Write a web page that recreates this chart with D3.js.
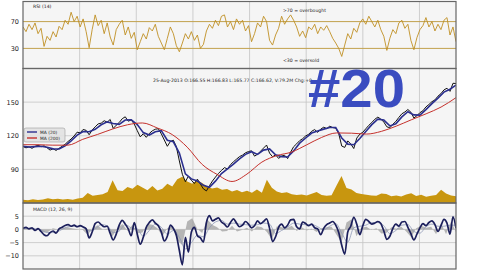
<!DOCTYPE html>
<html>
<head>
<meta charset="utf-8">
<script src="https://cdn.jsdelivr.net/npm/d3@7"></script>
<style>
  body { margin: 0; background: #fff; }
  svg { display: block; font-family: "DejaVu Sans", sans-serif; }
</style>
</head>
<body>
<svg id="chart" width="480" height="270"></svg>
<script>
const T0 = 2006, T1 = 2013.645;   // 1-Jan-2006 .. 25-Aug-2013
const yearTicks = [2007, 2008, 2009, 2010, 2011, 2012, 2013];

const rsiTicks = [30, 70];
const priceTicks = [90, 120, 150];
const macdTicks = [-10, -5, 0, 5];

const rsi = [62, 55, 66, 58, 68, 52, 60, 33, 48, 42, 55, 47, 63, 58, 72, 66, 84, 70, 78, 62,
  74, 55, 31, 58, 80, 64, 72, 52, 68, 47, 35, 58, 66, 72, 50, 62, 45, 54, 28, 40,
  52, 44, 61, 56, 66, 48, 38, 28, 45, 62, 52, 34, 25, 38, 52, 44, 55, 42, 50, 30,
  36, 56, 66, 60, 72, 64, 78, 80, 62, 70, 58, 74, 66, 72, 56, 64, 40, 52, 68, 62,
  78, 70, 42, 35, 50, 60, 78, 66, 74, 80, 72, 62, 48, 56, 46, 62, 58, 66, 52, 62,
  57, 64, 55, 45, 38, 30, 18, 35, 52, 44, 60, 54, 68, 74, 66, 78, 70, 62, 72, 58,
  48, 27, 45, 58, 52, 68, 72, 60, 66, 42, 28, 46, 58, 64, 76, 62, 70, 56, 66, 58,
  72, 76, 50, 62, 40];

const close = [110.4, 109.2, 110.1, 108.8, 110.5, 111.6, 110.2, 111.0, 109.3, 107.2,
  108.4, 106.9, 108.8, 110.6, 112.4, 114.9, 117.1, 119.8, 123.2, 122.6,
  125.6, 124.8, 120.9, 125.1, 127.9, 130.6, 131.2, 133.4, 132.1, 134.5,
  126.5, 129.4, 131.8, 135.2, 136.9, 133.0, 134.1, 130.4, 124.6, 119.0,
  121.8, 118.6, 122.0, 124.4, 125.8, 126.3, 121.7, 116.2, 110.6, 114.8,
  116.0, 110.2, 97.5, 85.6, 79.0, 83.9, 80.2, 77.4, 81.3, 76.8,
  72.6, 70.8, 75.4, 79.6, 83.1, 86.4, 89.0, 91.6, 90.3, 94.2,
  96.8, 99.1, 101.4, 102.7, 104.8, 105.9, 106.6, 101.8, 103.5, 106.2,
  109.0, 111.7, 104.5, 101.2, 103.0, 99.8, 101.9, 102.6, 99.6, 105.4,
  110.2, 112.8, 115.6, 117.4, 119.8, 121.3, 124.0, 125.5, 123.0, 125.9,
  127.6, 126.4, 128.5, 127.3, 126.8, 121.9, 110.8, 109.6, 115.4, 112.7,
  108.6, 117.9, 121.4, 123.1, 126.2, 129.3, 131.8, 134.7, 136.6, 134.9,
  132.2, 128.0, 127.1, 130.3, 132.8, 136.4, 139.6, 141.2, 143.4, 141.0,
  135.8, 137.9, 140.6, 142.3, 145.7, 147.9, 150.4, 152.0, 155.3, 157.6,
  160.9, 162.4, 159.6, 166.8, 166.6];

const ma20 = [110.6, 110.0, 110.3, 110.6, 109.8, 108.3, 108.2, 111.0, 115.4, 120.5,
  123.8, 123.6, 125.7, 129.8, 132.4, 131.0, 130.2, 134.0, 134.3, 130.0,
  122.8, 120.6, 123.5, 124.6, 116.0, 114.6, 104.5, 86.0, 81.5, 79.6,
  75.8, 74.0, 79.5, 86.3, 90.4, 94.6, 99.4, 103.4, 105.8, 103.4,
  107.2, 108.2, 103.0, 101.4, 101.0, 106.5, 113.4, 118.0, 122.4, 124.2,
  125.9, 127.4, 127.3, 118.0, 112.5, 112.0, 117.6, 123.8, 129.9, 134.8,
  134.0, 128.8, 130.6, 136.8, 141.4, 138.6, 138.4, 143.3, 148.6, 153.6,
  158.9, 161.5, 165.2];

const ma200 = [112.0, 112.0, 111.6, 111.6, 116.8, 121.2, 126.0, 129.8, 131.4, 126.9,
  121.0, 109.8, 94.4, 85.5, 79.2, 85.8, 96.5, 102.3, 105.5, 111.9,
  118.5, 122.5, 122.3, 121.5, 123.9, 128.6, 134.2, 139.6, 145.6, 154.0];

// dollar volume, $bn per day
const volume = [3.0, 2.5, 3.5, 2.8, 3.2, 4.5, 3.6, 4.0, 3.4, 3.9,
  3.1, 4.2, 5.0, 9.5, 6.8, 7.5, 8.2, 10.5, 21.5, 12.0,
  11.4, 15.2, 13.6, 17.4, 14.8, 12.2, 16.0, 11.8, 13.5, 18.3,
  15.7, 22.4, 24.8, 20.5, 18.2, 21.6, 19.0, 15.4, 13.8, 14.6,
  12.5, 13.2, 11.0, 12.3, 10.2, 11.5, 9.6, 12.8, 9.8, 22.0,
  14.5, 10.8, 9.5, 10.2, 8.4, 7.6, 8.0, 7.2, 8.8, 10.4,
  7.5, 6.8, 7.4, 16.5, 25.5, 14.2, 12.8, 9.4, 8.6, 7.9,
  7.2, 6.8, 9.1, 8.5, 6.4, 7.0, 6.2, 8.0, 9.2, 6.6,
  7.8, 6.0, 6.8, 7.5, 12.5, 9.0, 7.2, 6.5];

const macd = [0.4, 0.8, 0.2, 0.6, -0.4, 0.3, -0.8, -2.0, -2.4, -1.2,
  -0.6, -1.4, 0.2, 0.8, 1.5, 1.8, 1.2, 1.6, 1.0, 1.4,
  0.9, 0.2, -3.2, -1.0, 2.2, 2.8, 1.8, 1.0, 1.2, -1.5,
  -4.0, -1.8, 1.6, 3.4, 2.0, 0.2, -2.4, 2.6, -1.8, -5.6,
  -3.0, 0.8, 2.6, 3.6, 2.4, 1.4, -1.0, -4.4, -2.6, 1.6,
  0.4, -2.2, -8.0, -13.4, -3.0, -8.6, -1.0, 0.8, -2.4, -3.2,
  -4.8, 2.6, 5.2, 3.2, 3.8, 4.4, 2.8, 2.0, 0.9, 2.6,
  4.0, 2.4, 1.0, 1.6, 3.0, 2.0, 0.6, 1.4, 3.2, 2.2,
  3.0, 4.0, 0.4, -4.6, -2.8, 0.8, 2.0, 0.6, 1.6, 3.6,
  3.8, 1.0, 0.2, 2.8, 2.2, 1.4, 2.0, 0.6, 0.2, -2.0,
  0.4, 1.8, 2.4, 3.0, 1.6, -1.2, -6.0, -9.4, -1.0, 1.2,
  4.6, 2.0, -2.0, 1.4, 3.8, 3.0, 2.0, 2.4, 3.0, 2.2,
  -0.6, -3.8, -2.6, 0.4, 2.0, 1.2, 2.8, 3.0, 0.8, -1.6,
  -4.0, -1.8, 0.6, 2.2, 1.4, 2.6, 3.2, 1.8, -0.8, 1.4,
  3.8, 2.4, -1.8, 4.8, 0.4];

const signal = [0.3, 0.4, 0.2, -0.2, -1.2, -1.2, -0.6, 0.6, 1.2, 1.2,
  1.0, -0.6, 0.2, 1.8, 1.4, -1.2, -0.6, 1.8, 0.6, 0.2,
  -2.6, -0.4, 2.0, 0.8, -1.8, -0.4, -3.0, -7.4, -5.0, -2.2,
  -2.8, 0.6, 2.8, 3.4, 2.0, 2.4, 2.0, 1.8, 1.6, 1.8,
  2.4, 2.0, -1.6, -0.4, 0.8, 2.4, 2.0, 1.8, 1.8, 1.0,
  -0.2, 1.2, 2.2, -1.4, -4.8, 0.6, 1.2, 1.6, 2.6, 2.6,
  1.4, -1.6, -0.4, 1.6, 1.8, -0.8, -1.4, 1.0, 2.0, 1.2,
  1.2, 1.6, 1.6];

const hist = [0.1, 0.4, 0.1, 0.2, -1.2, -1.0, 0.4, 0.0, 0.6, 0.8,
  0.3, 0.1, -0.2, -2.0, 0.4, 1.6, 0.0, 0.2, -2.6, 0.6,
  2.0, -0.6, 1.8, -1.6, -1.2, 2.0, 1.8, 0.4, -2.6, 0.4,
  1.2, -4.0, -6.0, 3.0, 4.2, 0.2, -1.4, 3.8, 1.8, 0.8,
  -0.8, -0.6, 1.4, -0.8, -0.2, 0.6, -0.8, 1.2, 0.8, -1.0,
  -3.8, 1.2, 0.8, 0.4, 1.4, -0.6, 0.8, -0.4, 0.2, -1.0,
  0.4, 0.8, 1.0, -2.0, -5.0, 2.6, 3.8, -2.6, 0.6, 1.0,
  -0.2, 0.4, -1.6, -1.4, 0.8, 0.2, 1.0, -0.8, -3.0, 0.4,
  1.4, 0.6, 1.0, -1.8, 2.4, -1.8, 3.0, -1.0];

const header = '25-Aug-2013 O:166.55 H:166.83 L:165.77 C:166.62, V:79.2M Chg:+0';

const svg = d3.select('#chart');
const left = 23, right = 456;
const fill = '#c8960f';
const grid = '#c4c4c4';

const x = d3.scaleLinear().domain([T0, T1]).range([left, right]);
const series = arr => arr.map((v, i) => ({ t: T0 + i * (T1 - T0) / (arr.length - 1), v }));

const panels = {
  rsi: { top: 1.5, bottom: 68.5, domain: [0, 100], ticks: rsiTicks },
  price: { top: 68.5, bottom: 203, domain: [60, 180], ticks: priceTicks },
  macd: { top: 203, bottom: 269, domain: [-15, 10], ticks: macdTicks },
};

svg.append('defs').selectAll('clipPath').data(Object.entries(panels)).join('clipPath')
  .attr('id', d => `clip-${d[0]}`)
  .append('rect')
  .attr('x', left).attr('y', d => d[1].top)
  .attr('width', right - left).attr('height', d => d[1].bottom - d[1].top);

Object.entries(panels).forEach(([key, p]) => {
  p.y = d3.scaleLinear().domain(p.domain).range([p.bottom, p.top]);
  svg.append('rect')
    .attr('x', left).attr('y', p.top)
    .attr('width', right - left).attr('height', p.bottom - p.top)
    .attr('fill', '#f5f5f5');

  const g = svg.append('g');
  g.selectAll('line.vgrid').data(yearTicks).join('line')
    .attr('class', 'vgrid')
    .attr('x1', d => x(d)).attr('x2', d => x(d))
    .attr('y1', p.top).attr('y2', p.bottom)
    .attr('stroke', grid).attr('stroke-width', 0.8);

  if (key !== 'rsi') {
    g.selectAll('line.hgrid').data(p.ticks).join('line')
      .attr('class', 'hgrid')
      .attr('x1', left).attr('x2', right)
      .attr('y1', d => p.y(d)).attr('y2', d => p.y(d))
      .attr('stroke', grid).attr('stroke-width', 0.8);
  }

  const axis = svg.append('g')
    .attr('transform', `translate(${left},0)`)
    .call(d3.axisLeft(p.y).tickValues(p.ticks).tickSize(0).tickPadding(4));
  axis.select('.domain').remove();
  axis.selectAll('text').attr('font-size', 6.5).attr('fill', '#222')
    .attr('font-family', '"DejaVu Sans", sans-serif');

  p.g = svg.append('g').attr('clip-path', `url(#clip-${key})`);
});

// RSI
const rp = panels.rsi;
rp.g.selectAll('line.lvl').data(rsiTicks).join('line')
  .attr('x1', left).attr('x2', right)
  .attr('y1', d => rp.y(d)).attr('y2', d => rp.y(d))
  .attr('stroke', '#c2a24e').attr('stroke-width', 1);
rp.g.append('path')
  .datum(series(rsi))
  .attr('fill', 'none')
  .attr('stroke', '#c09024')
  .attr('stroke-width', 0.9)
  .attr('d', d3.line().x(d => x(d.t)).y(d => rp.y(d.v)));

svg.append('text').attr('x', 33).attr('y', 8).attr('font-size', 4.6).attr('fill', '#222').text('RSI (14)');
svg.append('text').attr('x', 283).attr('y', 12).attr('font-size', 4.6).attr('fill', '#222').text('>70 = overbought');
svg.append('text').attr('x', 283).attr('y', 62).attr('font-size', 4.6).attr('fill', '#222').text('<30 = oversold');

// price panel
const pp = panels.price;
const vy = d3.scaleLinear().domain([0, 5 * d3.max(volume)]).range([pp.bottom, pp.top]);
pp.g.append('path')
  .datum(series(volume))
  .attr('fill', fill)
  .attr('d', d3.area().x(d => x(d.t)).y0(pp.bottom).y1(d => vy(d.v)));

const priceLine = d3.line().x(d => x(d.t)).y(d => pp.y(d.v));
pp.g.append('path').datum(series(close))
  .attr('fill', 'none').attr('stroke', '#111').attr('stroke-width', 1).attr('d', priceLine);
pp.g.append('path').datum(series(ma20))
  .attr('fill', 'none').attr('stroke', '#2b2f8f').attr('stroke-width', 1.6).attr('d', priceLine);
pp.g.append('path').datum(series(ma200))
  .attr('fill', 'none').attr('stroke', '#c4302b').attr('stroke-width', 1).attr('d', priceLine.curve(d3.curveMonotoneX));

svg.append('text').attr('x', 153).attr('y', 82).attr('font-size', 4.6).attr('fill', '#222').text(header);

const legend = svg.append('g').attr('transform', 'translate(24,128)');
legend.append('rect')
  .attr('width', 41).attr('height', 14).attr('rx', 2)
  .attr('fill', '#e2e2e2').attr('fill-opacity', 0.9)
  .attr('stroke', '#9a9a9a').attr('stroke-width', 0.6);
[{ label: 'MA (20)', color: '#2b2f8f' }, { label: 'MA (200)', color: '#c4302b' }].forEach((s, i) => {
  const row = legend.append('g').attr('transform', `translate(0,${4 + i * 6})`);
  row.append('line').attr('x1', 3).attr('x2', 13).attr('stroke', s.color).attr('stroke-width', 1.4);
  row.append('text').attr('x', 16).attr('y', 1.6).attr('font-size', 4.4).attr('fill', '#222').text(s.label);
});

// MACD
const mp = panels.macd;
mp.g.append('path')
  .datum(series(hist))
  .attr('fill', '#9a9a9a').attr('fill-opacity', 0.7)
  .attr('d', d3.area().x(d => x(d.t)).y0(mp.y(0)).y1(d => mp.y(d.v)));
mp.g.append('path')
  .datum(series(signal))
  .attr('fill', 'none').attr('stroke', '#8d97b5').attr('stroke-width', 0.8)
  .attr('d', d3.line().x(d => x(d.t)).y(d => mp.y(d.v)).curve(d3.curveMonotoneX));
mp.g.append('path')
  .datum(series(macd))
  .attr('fill', 'none').attr('stroke', '#1c1f5c').attr('stroke-width', 1.7)
  .attr('stroke-linejoin', 'round')
  .attr('d', d3.line().x(d => x(d.t)).y(d => mp.y(d.v)).curve(d3.curveMonotoneX));
svg.append('text').attr('x', 33).attr('y', 211).attr('font-size', 4.6).attr('fill', '#222').text('MACD (12, 26, 9)');

// frames
Object.values(panels).forEach(p => {
  svg.append('rect')
    .attr('x', left).attr('y', p.top)
    .attr('width', right - left).attr('height', p.bottom - p.top)
    .attr('fill', 'none').attr('stroke', '#666').attr('stroke-width', 1.2);
});

svg.append('text')
  .attr('x', 308).attr('y', 107)
  .attr('font-family', '"Liberation Sans", Arial, sans-serif')
  .attr('font-weight', 'bold')
  .attr('font-size', 53)
  .attr('textLength', 97)
  .attr('lengthAdjust', 'spacingAndGlyphs')
  .attr('fill', '#3a4cc0')
  .text('#20');
</script>
</body>
</html>
